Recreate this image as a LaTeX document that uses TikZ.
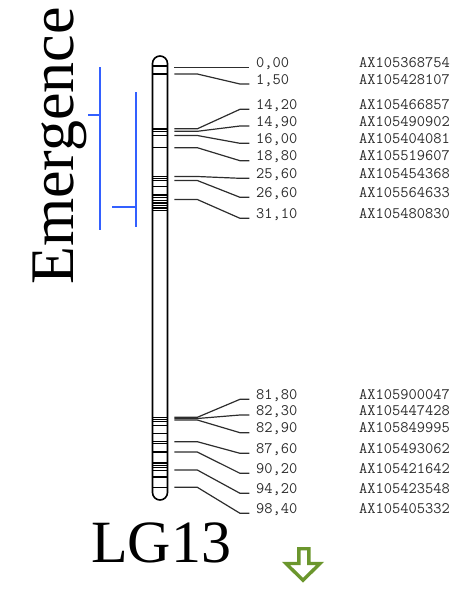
\documentclass[tikz,border=0pt]{standalone}
\usepackage{fontspec}
\setmainfont{Liberation Serif}
\definecolor{qtlblue}{RGB}{51,96,255}
\definecolor{arrowgreen}{RGB}{107,150,45}
\definecolor{labgray}{RGB}{45,45,45}

\tikzset{
  chrom/.style={line width=1.6pt, rounded corners=7.5pt},
  band/.style={line width=1.1pt},
  mline/.style={line width=1.2pt, draw=labgray},
  numlab/.style={anchor=base west, inner sep=0pt, text=labgray,
    font=\ttfamily\fontsize{16}{18}\selectfont\addfontfeatures{LetterSpace=10}},
  axlab/.style={numlab},
  qtl/.style={line width=2.2pt, draw=qtlblue},
  qtltick/.style={line width=1.6pt, draw=qtlblue},
}

\begin{document}
\begin{tikzpicture}[x=1pt,y=-1pt]
\useasboundingbox (0,0) rectangle (476,592);

% trait name
\node[rotate=90, anchor=base west, inner sep=0pt,
      font=\fontsize{62}{70}\selectfont] (trait) at (73,285) {Emergence};

% QTL support intervals
\draw[qtl] (100,67.3) -- (100,230);
\draw[qtltick] (88.3,115) -- (100,115);
\draw[qtl] (135.7,92.3) -- (135.7,226.7);
\draw[qtltick] (112.3,206.7) -- (135.7,206.7);

% linkage group bar
\draw[chrom] (152.5,56) rectangle (167.5,500);
\foreach \y in {66,74,129,131.5,135.5,147.7,176.5,178.3,180.5,186.5,
                195,197.7,200.3,203,205.5,208,210.5,
                417.5,419.5,421.8,425.8,433.3,441.8,443.2,452,
                463,465.3,467.8,470.3,477,487.5}
  \draw[band] (152.5,\y) -- (167.5,\y);

% markers: position label, marker name, y on bar, y of label
\foreach \i/\cm/\ax/\ya/\yb in {
   1/0{,}00/AX105368754/67.3/67.3,
   2/1{,}50/AX105428107/74/84,
   3/14{,}20/AX105466857/128.8/109.3,
   4/14{,}90/AX105490902/131.3/126,
   5/16{,}00/AX105404081/135.5/143.3,
   6/18{,}80/AX105519607/147.7/160.7,
   7/25{,}60/AX105454368/176.5/178.3,
   8/26{,}60/AX105564633/180.5/197.3,
   9/31{,}10/AX105480830/199.5/218.3,
  10/81{,}80/AX105900047/417.3/399.3,
  11/82{,}30/AX105447428/418.5/415,
  12/82{,}90/AX105849995/420/432.7,
  13/87{,}60/AX105493062/441.7/453.3,
  14/90{,}20/AX105421642/452/473.3,
  15/94{,}20/AX105423548/470/493.3,
  16/98{,}40/AX105405332/487.3/513.3}
{
  \coordinate (c\i) at (174.3,\ya);
  \node[numlab] (n\i) at (256,\yb) {\cm};
  \node[axlab] (a\i) at (359,\yb) {\ax};
  \draw[mline] (c\i) -- ++(23,0) -- ([xshift=-16pt]n\i.base west)
               -- ([xshift=-6.7pt]n\i.base west);
}

% linkage group name
\node[anchor=base west, inner sep=0pt,
      font=\fontsize{60}{66}\selectfont] (lg) at (91,562) {LG13};

% hollow down arrow
\draw[arrowgreen, line width=3.4pt, line join=miter, fill=white]
  (298.8,548.7) -- (308.9,548.7) -- (308.9,563.5) -- (320,563.5)
  -- (303,580.2) -- (286,563.5) -- (298.8,563.5) -- cycle;
\end{tikzpicture}
\end{document}
